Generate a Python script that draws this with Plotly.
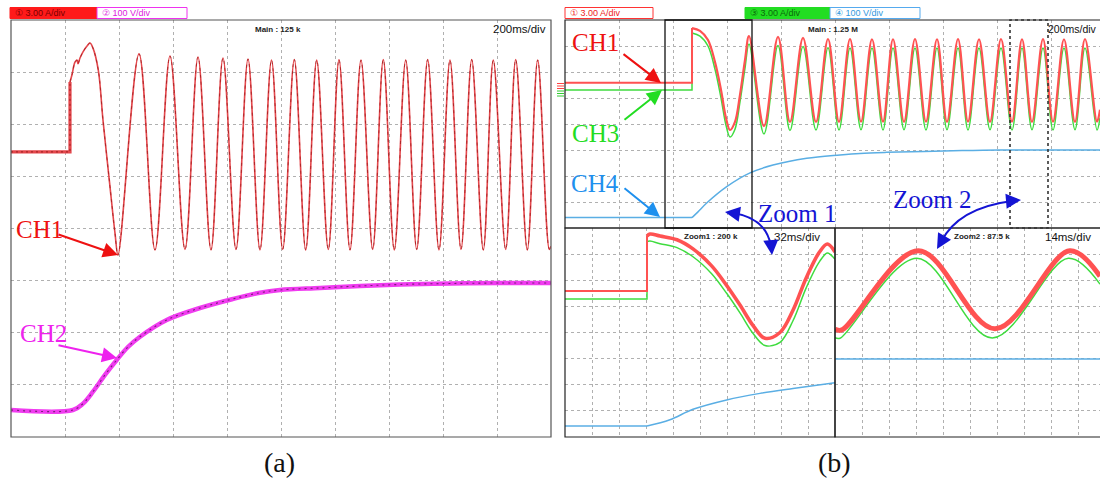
import plotly.graph_objects as go

W, H = 1100, 480

# ================= DATA (time in ms, amplitude in screen divisions) =================
# ---- panel (a): 200 ms/div ----
a_ch1_dc_t = [0, 218.5, 218.5]
a_ch1_dc_v = [5.47, 5.47, 6.81]
a_ch1_t = [218.5, 225.9, 237.0, 244.4, 248.1, 255.6, 266.7, 281.5, 292.6, 303.7, 323.3, 340.7, 366.7, 385.2, 396.3,
           474.1, 533.3, 588.9, 644.4, 692.6, 740.7, 785.2, 833.3, 877.8, 922.2, 964.8, 1006.3, 1049.3, 1091.5,
           1132.2, 1175.2, 1214.8, 1255.6, 1296.3, 1339.6, 1378.9, 1419.6, 1461.9, 1502.6, 1543.3, 1585.2,
           1625.9, 1666.7, 1706.3, 1749.3, 1786.3, 1832.2, 1869.3, 1912.2, 1950.7, 1993.7, 2000]
a_ch1_v = [6.81, 6.95, 7.19, 7.23, 7.16, 7.27, 7.39, 7.50, 7.56, 7.46, 7.04, 6.08, 4.80, 3.91, 3.49,
           7.35, 3.59, 7.31, 3.60, 7.29, 3.59, 7.27, 3.60, 7.25, 3.59, 7.23, 3.60, 7.24, 3.59,
           7.23, 3.60, 7.24, 3.59, 7.23, 3.60, 7.24, 3.59, 7.23, 3.60, 7.24, 3.59,
           7.23, 3.60, 7.24, 3.59, 7.23, 3.60, 7.24, 3.59, 7.23, 3.60, 3.66]

a_ch2_t = [0, 229.6, 266.7, 303.7, 348.0, 391.5, 433.0, 477.8, 576.7, 700.0, 822.0, 922.0, 996.0,
           1144.0, 1293.0, 1441.0, 1626.0, 1811.0, 2000.0]
a_ch2_v = [0.518, 0.518, 0.640, 0.869, 1.19, 1.477, 1.727, 1.924, 2.245, 2.475, 2.648, 2.768, 2.820,
           2.859, 2.897, 2.926, 2.945, 2.954, 2.954]

# ---- panel (b) main: 200 ms/div ----
b_ch1_dc_t = [0, 470.4, 470.4]
b_ch1_dc_v = [5.59, 5.59, 7.69]
b_ch3_dc_v = [5.31, 5.31, 7.50]
b_t = [470.4, 500.0, 529.6, 555.6, 577.8, 596.3, 611.1, 629.6, 648.1, 666.7, 681.5,
       737.0, 788.9, 833.3, 881.5, 929.6, 974.1, 1014.8, 1055.6, 1096.3, 1137.0, 1177.8, 1214.8,
       1255.6, 1296.3, 1337.0, 1377.8, 1414.8, 1455.6, 1492.6, 1533.3, 1574.1, 1614.8, 1655.6,
       1692.6, 1729.6, 1770.4, 1807.4, 1848.1, 1888.9, 1925.9, 1970.4, 1981.5]
b_ch1_v = [7.69, 7.58, 7.23, 6.38, 5.31, 4.23, 3.77, 4.08, 5.12, 6.46, 7.38,
           3.92, 7.35, 4.08, 7.31, 4.08, 7.27, 4.08, 7.27, 4.09, 7.26, 4.09, 7.26,
           4.08, 7.27, 4.09, 7.26, 4.08, 7.27, 4.09, 7.26, 4.08, 7.27, 4.09,
           7.26, 4.08, 7.27, 4.09, 7.26, 4.08, 7.27, 4.09, 4.55]
b_ch3_v = [7.50, 7.38, 7.00, 6.10, 5.00, 3.95, 3.50, 3.80, 4.85, 6.15, 7.08,
           3.62, 7.02, 3.75, 6.98, 3.77, 6.93, 3.77, 6.92, 3.78, 6.92, 3.77, 6.92,
           3.78, 6.92, 3.77, 6.92, 3.78, 6.92, 3.77, 6.92, 3.78, 6.92, 3.77,
           6.92, 3.78, 6.92, 3.77, 6.92, 3.78, 6.92, 3.77, 4.25]
b_ch4_dc_t = [0, 470.4]
b_ch4_dc_v = [0.40, 0.40]
b_ch4_t = [470.4, 492.6, 524.8, 598.9, 685.2, 770.4, 895.2, 1018.5, 1092.6, 1191.5, 1437.0, 1611.0, 1981.5]
b_ch4_v = [0.40, 0.62, 0.96, 1.59, 2.12, 2.42, 2.68, 2.81, 2.87, 2.91, 2.97, 3.00, 3.00]

# ---- Zoom 1: 32 ms/div ----
z1_dc_t = [0, 97.2, 97.2]
z1_ch1_dc_v = [5.59, 5.59, 7.69]
z1_ch3_dc_v = [5.28, 5.28, 7.48]
z1_t = [97.2, 100.7, 112.6, 132.7, 151.7, 173.8, 191.6, 207.4, 223.2, 237.0, 254.8, 270.2, 286.0, 301.8, 311.0, 320.0]
z1_ch1_v = [7.69, 7.77, 7.69, 7.55, 7.20, 6.55, 5.80, 5.05, 4.25, 3.78, 4.00, 4.85, 6.10, 7.09, 7.39, 7.08]
z1_ch3_v = [7.48, 7.50, 7.40, 7.25, 6.90, 6.25, 5.50, 4.75, 3.95, 3.50, 3.62, 4.45, 5.72, 6.72, 7.04, 6.80]
z1_ch4_dc_t = [0, 97.2]
z1_ch4_dc_v = [0.42, 0.42]
z1_ch4_t = [97.2, 124.4, 151.7, 191.6, 231.1, 270.2, 320.0]
z1_ch4_v = [0.42, 0.66, 1.06, 1.42, 1.67, 1.86, 2.08]

# ---- Zoom 2: 14 ms/div ----
z2_ch1_t = [0, 3.6, 43.2, 83.0, 121.8, 137.4]
z2_ch1_v = [4.12, 4.10, 7.13, 4.14, 7.13, 6.15]
z2_ch3_t = [0, 2.6, 42.4, 81.5, 121.0, 137.4]
z2_ch3_v = [3.80, 3.78, 6.84, 3.79, 6.84, 5.85]
z2_ch4_t = [0, 137.4]
z2_ch4_v = [2.99, 2.99]

# ================= STYLE =================
RED_A = '#e4474c'
RED_B = '#ff5252'
GREEN = '#3fdc3f'
BLUE = '#5aaee4'
MAG = '#f03cf0'
SERIF = 'Liberation Serif, Times New Roman, serif'
NARROW = 'Liberation Sans Narrow, Arial Narrow, Liberation Sans, sans-serif'


def px(x):
    return x / W


def py(y):
    return 1 - y / H


fig = go.Figure()


def line(t, v, ax, color, width, shape='linear', dash=None, opacity=1.0):
    fig.add_trace(go.Scatter(x=t, y=v, xaxis='x' + ax, yaxis='y' + ax, mode='lines',
                             line=dict(color=color, width=width, shape=shape, dash=dash),
                             opacity=opacity, hoverinfo='skip', showlegend=False))


# panel (a)
line(a_ch2_t, a_ch2_v, '', MAG, 4.5, 'spline')
line(a_ch2_t, a_ch2_v, '', '#5a1a5a', 1.1, 'spline', '2px,4px', 0.8)
line(a_ch1_dc_t, a_ch1_dc_v, '', RED_A, 3.2)
line(a_ch1_dc_t, a_ch1_dc_v, '', '#8b1515', 1.0, 'linear', '2px,3px', 0.8)
line(a_ch1_t, a_ch1_v, '', RED_A, 1.6, 'spline')
line(a_ch1_t, a_ch1_v, '', '#9a1818', 1.0, 'spline', '3px,4px', 0.7)

# panel (b) main
line(b_ch4_dc_t, b_ch4_dc_v, '2', BLUE, 1.5)
line(b_ch4_t, b_ch4_v, '2', BLUE, 1.5, 'spline')
line(b_ch1_dc_t, b_ch3_dc_v, '2', GREEN, 1.5)
line(b_t, b_ch3_v, '2', GREEN, 1.5, 'spline')
line(b_ch1_dc_t, b_ch1_dc_v, '2', RED_B, 2.0)
line(b_t, b_ch1_v, '2', RED_B, 2.2, 'spline')

# zoom 1
line(z1_ch4_dc_t, z1_ch4_dc_v, '3', BLUE, 1.5)
line(z1_ch4_t, z1_ch4_v, '3', BLUE, 1.5, 'spline')
line(z1_dc_t, z1_ch3_dc_v, '3', GREEN, 1.5)
line(z1_t, z1_ch3_v, '3', GREEN, 1.5, 'spline')
line(z1_dc_t, z1_ch1_dc_v, '3', RED_B, 2.0)
line(z1_t, z1_ch1_v, '3', RED_B, 3.6, 'spline')

# zoom 2
line(z2_ch4_t, z2_ch4_v, '4', BLUE, 1.5)
line(z2_ch3_t, z2_ch3_v, '4', GREEN, 1.5, 'spline')
line(z2_ch1_t, z2_ch1_v, '4', RED_B, 5.0, 'spline')


def axis(domain, rng, dtick, anchor):
    return dict(domain=domain, range=rng, dtick=dtick, tick0=0, showgrid=True, gridcolor='#b0b0b0',
                griddash='dot', gridwidth=1, zeroline=False, showticklabels=False, ticks='',
                showline=False, fixedrange=True, anchor=anchor)


ya = [py(437), py(20)]
yb_top = [py(228), py(20)]
yb_bot = [py(437), py(228)]

layout = dict(
    width=W, height=H, autosize=False, margin=dict(l=0, r=0, t=0, b=0),
    paper_bgcolor='white', plot_bgcolor='white', showlegend=False,
    xaxis=axis([px(11), px(551)], [0, 2000], 200, 'y'),
    yaxis=axis(ya, [0, 8], 1, 'x'),
    xaxis2=axis([px(565), 1.0], [0, 2000 * (W - 565) / 540], 200, 'y2'),
    yaxis2=axis(yb_top, [0, 8], 1, 'x2'),
    xaxis3=axis([px(565), px(835)], [0, 320], 32, 'y3'),
    yaxis3=axis(yb_bot, [0, 8], 1, 'x3'),
    xaxis4=axis([px(835), 1.0], [0, 140 * (W - 835) / 270], 14, 'y4'),
    yaxis4=axis(yb_bot, [0, 8], 1, 'x4'),
)
fig.update_layout(**layout)

shapes = []


def rect(x0, y0, x1, y1, color, width=1.0, fill=None, dash=None):
    shapes.append(dict(type='rect', xref='paper', yref='paper', x0=px(x0), x1=px(x1), y0=py(y1), y1=py(y0),
                       line=dict(color=color, width=width, dash=dash), fillcolor=fill, layer='above'))


def seg(x0, y0, x1, y1, color, width=1.0):
    shapes.append(dict(type='line', xref='paper', yref='paper', x0=px(x0), x1=px(x1), y0=py(y0), y1=py(y1),
                       line=dict(color=color, width=width), layer='above'))


def curve(pts, color, width=2.0):
    (x0, y0), (cx, cy), (x1, y1) = pts
    path = f"M {px(x0)},{py(y0)} Q {px(cx)},{py(cy)} {px(x1)},{py(y1)}"
    shapes.append(dict(type='path', xref='paper', yref='paper', path=path,
                       line=dict(color=color, width=width), layer='above'))


# frames
rect(11, 20, 551, 437, '#555555', 1.2)
rect(565, 20, 1106, 228, '#222222', 1.2)
rect(565, 228, 835, 437, '#222222', 1.2)
rect(835, 228, 1106, 437, '#222222', 1.2)
# zoom windows on main trace
rect(665, 20, 752, 228, '#111111', 1.3)
rect(1010, 20, 1048, 228, '#333333', 1.6, dash='dot')
# header boxes
rect(10, 7.5, 97, 18.5, '#ff1a1a', 1, fill='#ff1a1a')
rect(97, 7.5, 187, 18.5, '#ee33ee', 1, fill='white')
rect(565, 7.5, 653, 18.5, '#ff3333', 1, fill='white')
rect(745, 7.5, 830, 18.5, '#22dd22', 1, fill='#22dd22')
rect(830, 7.5, 920, 18.5, '#55aaee', 1, fill='white')
# channel level markers (b)
for yy in (83.5, 86, 88.5):
    seg(557, yy, 564, yy, '#ff4444', 1)
for yy in (91, 93.5, 96):
    seg(557, yy, 564, yy, '#33cc33', 1)
# curved zoom arrows
curve([(733, 213), (766, 218), (771, 246)], '#1414d4', 2)
curve([(941, 242), (958, 208), (1012, 201)], '#1414d4', 2)

fig.update_layout(shapes=shapes)

ann = []


def txt(x, y, s, size, color, family, xanchor='center', bold=False):
    if bold:
        s = '<b>' + s + '</b>'
    ann.append(dict(x=px(x), y=py(y), xref='paper', yref='paper', text=s, showarrow=False,
                    font=dict(size=size, color=color, family=family), xanchor=xanchor, yanchor='middle'))


def arrow(tx, ty, hx, hy, color, width=2.0, size=1.5):
    ann.append(dict(x=px(hx), y=py(hy), xref='paper', yref='paper', ax=tx - hx, ay=ty - hy, text='',
                    showarrow=True, arrowhead=2, arrowsize=size, arrowwidth=width, arrowcolor=color,
                    standoff=0, startstandoff=0))


# header texts
txt(13, 13, '① 3.00 A/div', 9, '#7a0000', NARROW, 'left')
txt(100, 13, '② 100 V/div', 9, '#dd22dd', NARROW, 'left')
txt(568, 13, '① 3.00 A/div', 9, '#ee2222', NARROW, 'left')
txt(748, 13, '③ 3.00 A/div', 9, '#0a6a0a', NARROW, 'left')
txt(833, 13, '④ 100 V/div', 9, '#3399dd', NARROW, 'left')
# scope readouts
txt(278, 29, 'Main : 125 k', 8, '#222222', NARROW, bold=True)
txt(548, 29, '200ms/div', 11.5, '#111111', NARROW, 'right')
txt(833, 29, 'Main : 1.25 M', 8, '#222222', NARROW, bold=True)
txt(1099, 29, '200ms/div', 10.5, '#111111', NARROW, 'right')
txt(711, 236, 'Zoom1 : 200 k', 8, '#222222', NARROW, bold=True)
txt(822, 237, '32ms/div', 11.5, '#111111', NARROW, 'right')
txt(982, 236, 'Zoom2 : 87.5 k', 8, '#222222', NARROW, bold=True)
txt(1093, 237, '14ms/div', 11.5, '#111111', NARROW, 'right')

# channel labels + arrows
txt(39, 229, 'CH1', 25, '#ee1111', SERIF)
arrow(57, 234, 118, 255, '#ee1111')
txt(43, 333, 'CH2', 25, '#ee22ee', SERIF)
arrow(57, 345, 117, 358, '#ee22ee')
txt(595, 42, 'CH1', 25, '#ee1111', SERIF)
arrow(622, 53, 661, 83, '#ee1111')
txt(595, 133, 'CH3', 25, '#22dd22', SERIF)
arrow(623, 121, 662, 90, '#22dd22')
txt(595, 183, 'CH4', 25, '#1e90ee', SERIF)
arrow(623, 187, 660, 217, '#1e90ee')
txt(797, 213, 'Zoom 1', 25, '#1414d4', SERIF)
txt(932, 199, 'Zoom 2', 25, '#1414d4', SERIF)
arrow(738, 214, 725, 212, '#1414d4')
arrow(771, 243, 772, 255, '#1414d4')
arrow(944, 237, 937, 249, '#1414d4')
arrow(1009, 201, 1021, 200, '#1414d4')

# sub-figure labels
txt(280, 462, '(a)', 28, '#111111', SERIF)
txt(835, 462, '(b)', 28, '#111111', SERIF)

fig.update_layout(annotations=ann)

fig.write_html("out.html")
